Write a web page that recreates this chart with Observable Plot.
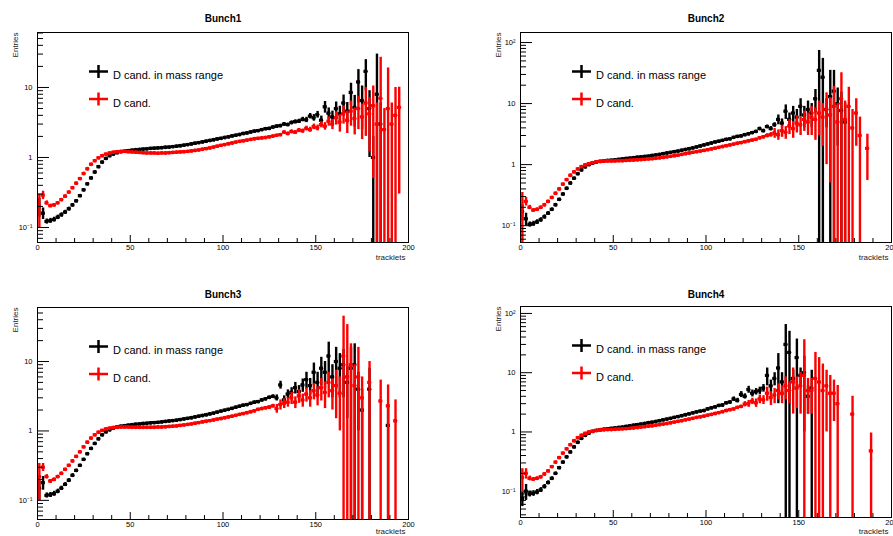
<!DOCTYPE html>
<html><head><meta charset="utf-8">
<script src="https://cdn.jsdelivr.net/npm/d3@7"></script>
<script src="https://cdn.jsdelivr.net/npm/@observablehq/plot@0.6"></script>
<style>
html,body{margin:0;padding:0;background:#fff;}
#root{position:relative;width:893px;height:536px;overflow:hidden;font-family:"Liberation Sans",Arial,sans-serif;}
.panel{position:absolute;}
</style></head><body><div id="root"></div>
<script>
// ---------- data ----------
const tracklets = [1,3,5,7,9,11,13,15,17,19,21,23,25,27,29,31,33,35,37,39,
 41,43,45,47,49,51,53,55,57,59,61,63,65,67,69,71,73,75,77,79,
 81,83,85,87,89,91,93,95,97,99,101,103,105,107,109,111,113,115,117,119,
 121,123,125,127,129,131,133,135,137,139,141,143,145,147,149,151,153,155,157,159,
 161,163,165,167,169,171,173,175,177,179,181,183,185,187,189,191,193,195,197,199];
const binWidth = 2;
const panelTitles = ["Bunch1","Bunch2","Bunch3","Bunch4"];
const legendLabels = ["D cand. in mass range","D cand."];
const xTicks = [0,50,100,150,200];
const yMin = [0.061,0.053,0.053,0.036];
const yMax = [61,146,60,131];
const yTickValues = [[0.1,1,10],[0.1,1,10,100],[0.1,1,10],[0.1,1,10,100]];
const xTitle = "tracklets", yTitle = "Entries";

// Bunch1
const bunch1InMass = [0.2,0.16,0.122,0.125,0.13,0.14,0.152,0.166,0.185,0.21,
 0.24,0.285,0.345,0.42,0.51,0.62,0.74,0.86,0.97,1.06,
 1.12,1.17,1.21,1.23,1.25,1.27,1.29,1.3,1.32,1.33,
 1.35,1.36,1.37,1.38,1.4,1.41,1.43,1.45,1.47,1.5,
 1.53,1.56,1.6,1.63,1.67,1.71,1.75,1.79,1.84,1.88,
 1.93,1.97,2.03,2.08,2.13,2.2,2.24,2.31,2.38,2.42,
 2.5,2.58,2.6,2.72,2.8,2.85,3.0,2.95,3.15,3.25,
 3.3,3.5,3.45,3.9,3.7,4.1,3.4,5.3,4.3,3.8,
 5.0,4.2,6.0,4.6,8.5,5.2,12,6.5,17,5,
 1.0,8,3];
const bunch1InMassErr = [0.06,0.03,0.01,0.01,0.01,0.01,0.01,0.01,0.01,0.01,
 0.01,0.01,0.01,0.01,0.01,0.02,0.02,0.02,0.02,0.02,
 0.02,0.02,0.02,0.02,0.02,0.02,0.02,0.02,0.02,0.02,
 0.02,0.02,0.02,0.02,0.02,0.02,0.02,0.02,0.02,0.03,
 0.03,0.03,0.03,0.03,0.03,0.03,0.03,0.03,0.04,0.04,
 0.04,0.04,0.05,0.05,0.05,0.06,0.06,0.07,0.07,0.08,
 0.08,0.09,0.1,0.1,0.12,0.13,0.15,0.15,0.18,0.2,
 0.22,0.25,0.3,0.35,0.4,0.45,0.5,1.0,0.8,0.8,
 1.2,1.2,1.8,1.5,3,2.5,6,4,8,4,
 1.0,22,3];
const bunch1All = [0.2,0.29,0.225,0.205,0.21,0.225,0.25,0.28,0.32,0.37,
 0.43,0.5,0.59,0.69,0.8,0.9,0.99,1.06,1.12,1.16,
 1.19,1.21,1.22,1.22,1.21,1.2,1.19,1.18,1.17,1.16,
 1.16,1.16,1.15,1.16,1.16,1.17,1.18,1.19,1.2,1.21,
 1.22,1.24,1.26,1.28,1.31,1.34,1.37,1.41,1.45,1.49,
 1.53,1.57,1.61,1.66,1.7,1.73,1.77,1.81,1.85,1.88,
 1.9,1.93,1.97,2.02,2.07,2.12,2.3,2.2,2.35,2.3,
 2.45,2.4,2.6,2.5,2.75,2.65,2.95,2.8,3.3,3.0,
 3.7,3.2,4.2,3.4,4.6,3.6,5.0,3.8,6,4.2,
 5.5,3,7,2.5,5,3,4,5.2];
const bunch1AllErr = [0.1,0.04,0.015,0.01,0.01,0.01,0.01,0.01,0.01,0.01,
 0.01,0.01,0.01,0.01,0.02,0.02,0.02,0.02,0.02,0.02,
 0.02,0.02,0.02,0.02,0.02,0.02,0.02,0.02,0.02,0.02,
 0.02,0.02,0.02,0.02,0.02,0.02,0.02,0.02,0.02,0.02,
 0.02,0.02,0.02,0.02,0.02,0.03,0.03,0.03,0.03,0.03,
 0.03,0.03,0.03,0.04,0.04,0.04,0.04,0.05,0.05,0.05,
 0.06,0.06,0.07,0.07,0.08,0.08,0.1,0.1,0.12,0.12,
 0.15,0.15,0.2,0.2,0.25,0.25,0.3,0.35,0.5,0.5,
 0.8,0.9,1.2,1.2,1.8,1.5,2.5,2,4,3,
 5,3,20,2.5,14,3,6,4.9];

// Bunch2
const bunch2InMass = [0.17,0.13,0.105,0.108,0.115,0.125,0.14,0.16,0.185,0.22,
 0.27,0.33,0.41,0.5,0.6,0.71,0.82,0.92,1.0,1.06,
 1.1,1.13,1.15,1.17,1.18,1.2,1.22,1.24,1.26,1.28,
 1.3,1.32,1.34,1.36,1.38,1.41,1.44,1.47,1.51,1.55,
 1.59,1.63,1.67,1.72,1.77,1.82,1.88,1.95,2.02,2.1,
 2.18,2.26,2.35,2.42,2.5,2.6,2.65,2.8,2.9,2.95,
 3.1,3.2,3.35,3.5,3.9,3.6,4.2,3.9,4.5,5.5,
 4.8,7.5,5.5,7,6,9,6.5,8,7,12,
 35,27,8,13,16,10,7.7,5];
const bunch2InMassErr = [0.05,0.03,0.01,0.01,0.01,0.01,0.01,0.01,0.01,0.01,
 0.01,0.01,0.01,0.01,0.01,0.02,0.02,0.02,0.02,0.02,
 0.02,0.02,0.02,0.02,0.02,0.02,0.02,0.02,0.02,0.02,
 0.02,0.02,0.02,0.02,0.02,0.02,0.02,0.02,0.02,0.03,
 0.03,0.03,0.03,0.03,0.03,0.03,0.03,0.03,0.04,0.04,
 0.04,0.04,0.05,0.05,0.05,0.06,0.06,0.07,0.07,0.08,
 0.1,0.1,0.12,0.13,0.2,0.2,0.25,0.3,0.35,1.0,
 0.8,2,1.5,2,2,3,2.5,3,3,5,
 39,28,4,22,19,8,7.7,5];
const bunch2All = [0.2,0.25,0.2,0.18,0.185,0.2,0.22,0.25,0.29,0.34,
 0.4,0.48,0.57,0.67,0.76,0.85,0.93,0.99,1.04,1.08,
 1.11,1.13,1.14,1.15,1.15,1.15,1.16,1.16,1.17,1.18,
 1.19,1.2,1.21,1.22,1.24,1.25,1.27,1.29,1.31,1.34,
 1.37,1.4,1.43,1.47,1.51,1.55,1.59,1.63,1.67,1.71,
 1.76,1.81,1.86,1.92,1.98,2.04,2.1,2.17,2.24,2.3,
 2.38,2.45,2.52,2.6,2.75,2.85,3.0,3.1,3.3,3.1,
 3.6,3.4,4.3,3.9,4.8,4.5,5.5,5,6,5.5,
 7,6,8,6.5,9,5,12,5.5,9,4,
 7,3,null,1.85];
const bunch2AllErr = [0.15,0.04,0.015,0.01,0.01,0.01,0.01,0.01,0.01,0.01,
 0.01,0.01,0.01,0.01,0.02,0.02,0.02,0.02,0.02,0.02,
 0.02,0.02,0.02,0.02,0.02,0.02,0.02,0.02,0.02,0.02,
 0.02,0.02,0.02,0.02,0.02,0.02,0.02,0.02,0.02,0.02,
 0.02,0.02,0.02,0.02,0.02,0.03,0.03,0.03,0.03,0.03,
 0.03,0.03,0.03,0.04,0.04,0.04,0.04,0.05,0.05,0.05,
 0.08,0.09,0.1,0.1,0.12,0.15,0.2,0.25,0.6,0.6,
 0.8,0.8,1.2,1.2,1.5,1.5,2,2,3,3,
 4,4,7,6,10,5,20,5.5,9.5,4,
 5,3,0,1.3];

// Bunch3
const bunch3InMass = [0.15,0.18,0.118,0.12,0.125,0.135,0.15,0.17,0.195,0.23,
 0.27,0.32,0.39,0.47,0.56,0.66,0.77,0.88,0.97,1.04,
 1.1,1.14,1.17,1.19,1.21,1.23,1.25,1.26,1.28,1.29,
 1.31,1.32,1.33,1.35,1.37,1.39,1.41,1.43,1.46,1.49,
 1.52,1.55,1.59,1.63,1.67,1.71,1.76,1.81,1.87,1.93,
 1.99,2.05,2.12,2.2,2.27,2.35,2.4,2.5,2.6,2.65,
 2.8,2.9,3.05,3.15,3.0,4.6,2.8,3.4,3.6,4.2,
 3.7,4.6,5.5,4.5,7,5,8,7,12,6,
 10,8,9,5,8,9,4,2,null,4,
 null,null,null,null,1.2];
const bunch3InMassErr = [0.05,0.04,0.01,0.01,0.01,0.01,0.01,0.01,0.01,0.01,
 0.01,0.01,0.01,0.01,0.01,0.02,0.02,0.02,0.02,0.02,
 0.02,0.02,0.02,0.02,0.02,0.02,0.02,0.02,0.02,0.02,
 0.02,0.02,0.02,0.02,0.02,0.02,0.02,0.02,0.02,0.03,
 0.03,0.03,0.03,0.03,0.03,0.03,0.03,0.03,0.04,0.04,
 0.04,0.04,0.05,0.05,0.05,0.06,0.06,0.07,0.07,0.08,
 0.1,0.12,0.13,0.15,0.3,0.6,0.4,0.5,0.6,0.8,
 0.8,1,1.5,1.2,2.5,2,3.5,3,7,3,
 6,5,6,3.5,8,9,3,2,0,4,
 0,0,0,0,1.2];
const bunch3All = [0.22,0.3,0.22,0.19,0.2,0.22,0.245,0.28,0.32,0.37,
 0.43,0.5,0.59,0.69,0.79,0.88,0.96,1.02,1.07,1.1,
 1.12,1.13,1.14,1.14,1.14,1.13,1.13,1.13,1.13,1.13,
 1.13,1.13,1.14,1.14,1.15,1.16,1.17,1.18,1.2,1.22,
 1.24,1.26,1.29,1.32,1.35,1.38,1.41,1.44,1.48,1.51,
 1.55,1.59,1.63,1.68,1.73,1.78,1.83,1.89,1.95,2.05,
 2.1,2.15,2.2,2.3,2.1,2.4,2.5,2.6,3.0,2.6,
 3.2,2.8,3.4,3.0,3.8,3.3,4.2,3.6,5,3.8,
 4.5,3.5,12,6,9,4.5,6,3,null,5,
 null,null,2.7,null,2.3,null,1.4];
const bunch3AllErr = [0.12,0.04,0.015,0.01,0.01,0.01,0.01,0.01,0.01,0.01,
 0.01,0.01,0.01,0.01,0.02,0.02,0.02,0.02,0.02,0.02,
 0.02,0.02,0.02,0.02,0.02,0.02,0.02,0.02,0.02,0.02,
 0.02,0.02,0.02,0.02,0.02,0.02,0.02,0.02,0.02,0.02,
 0.02,0.02,0.02,0.02,0.02,0.03,0.03,0.03,0.03,0.03,
 0.03,0.03,0.03,0.04,0.04,0.04,0.04,0.05,0.05,0.05,
 0.1,0.1,0.12,0.12,0.3,0.4,0.4,0.4,0.6,0.5,
 0.7,0.6,0.8,0.8,1,1,1.5,1.5,2,1.8,
 3,2.5,33,28,9,4.5,10,3,0,5,
 0,0,2.7,0,2.3,0,1.4];

// Bunch4
const bunch4InMass = [0.075,0.1,0.09,0.092,0.097,0.105,0.12,0.14,0.165,0.2,
 0.25,0.31,0.38,0.46,0.56,0.67,0.78,0.88,0.96,1.02,
 1.06,1.09,1.11,1.13,1.15,1.17,1.19,1.21,1.24,1.27,
 1.3,1.33,1.36,1.39,1.43,1.46,1.5,1.55,1.6,1.65,
 1.7,1.76,1.82,1.88,1.95,2.02,2.1,2.18,2.25,2.3,
 2.45,2.55,2.65,2.8,2.85,3.1,3.2,3.6,3.4,4.3,
 4.0,5.2,4.5,4.8,5.0,5.5,9,6,8,12,
 7,30,22,8,18,9,10,4,5.5];
const bunch4InMassErr = [0.02,0.03,0.01,0.01,0.01,0.01,0.01,0.01,0.01,0.01,
 0.01,0.01,0.01,0.01,0.01,0.02,0.02,0.02,0.02,0.02,
 0.02,0.02,0.02,0.02,0.02,0.02,0.02,0.02,0.02,0.02,
 0.02,0.02,0.02,0.02,0.02,0.02,0.02,0.02,0.02,0.03,
 0.03,0.03,0.03,0.03,0.03,0.03,0.03,0.03,0.04,0.04,
 0.06,0.07,0.07,0.08,0.08,0.1,0.1,0.3,0.3,0.5,
 0.4,0.7,0.6,0.6,0.7,0.8,3,1.5,2,9,
 3,35,28,3,19,3,9,2,5.5];
const bunch4All = [0.17,0.2,0.165,0.16,0.165,0.175,0.195,0.22,0.26,0.31,
 0.37,0.44,0.52,0.61,0.71,0.8,0.88,0.95,1.0,1.03,
 1.06,1.08,1.09,1.1,1.1,1.11,1.12,1.13,1.14,1.15,
 1.17,1.19,1.21,1.23,1.25,1.27,1.3,1.33,1.36,1.39,
 1.43,1.47,1.51,1.55,1.6,1.65,1.7,1.76,1.8,1.85,
 1.92,1.98,2.05,2.12,2.2,2.3,2.38,2.45,2.6,2.7,
 2.95,3.0,3.3,3.1,3.6,3.5,4.5,3.8,4.2,5,
 4.5,6,5,7,5.5,6,9,5,5,8,
 7,5,6,4.5,4.5,3,null,null,null,2.0,
 null,null,null,null,0.48];
const bunch4AllErr = [0.07,0.04,0.015,0.01,0.01,0.01,0.01,0.01,0.01,0.01,
 0.01,0.01,0.01,0.01,0.02,0.02,0.02,0.02,0.02,0.02,
 0.02,0.02,0.02,0.02,0.02,0.02,0.02,0.02,0.02,0.02,
 0.02,0.02,0.02,0.02,0.02,0.02,0.02,0.02,0.02,0.02,
 0.02,0.02,0.02,0.02,0.02,0.03,0.03,0.03,0.03,0.03,
 0.03,0.03,0.03,0.04,0.04,0.04,0.04,0.05,0.05,0.05,
 0.3,0.4,0.4,0.5,0.6,0.6,1.2,1,1.2,1.5,
 1.5,2.5,2,5,3,4,27,3,3,14,
 11,9,5,4.5,3,3.1,0,0,0,2,
 0,0,0,0,0.48];

const inMassSeries = [bunch1InMass,bunch2InMass,bunch3InMass,bunch4InMass];
const inMassErrors = [bunch1InMassErr,bunch2InMassErr,bunch3InMassErr,bunch4InMassErr];
const allSeries = [bunch1All,bunch2All,bunch3All,bunch4All];
const allErrors = [bunch1AllErr,bunch2AllErr,bunch3AllErr,bunch4AllErr];
const seriesColors = ["#000000","#ff0000"];

// ---------- layout ----------
const H = 268;
const layout = [
  {left:0,   top:0,   width:446, mL:37, mR:38, mT:32, mB:26, xLabDy:17, titleDy:-18},
  {left:446, top:0,   width:447, mL:74, mR:2,  mT:32, mB:26, xLabDy:17, titleDy:-18},
  {left:0,   top:268, width:446, mL:37, mR:38, mT:39, mB:17, xLabDy:14, titleDy:-17},
  {left:446, top:268, width:447, mL:74, mR:2,  mT:38, mB:19, xLabDy:16, titleDy:-16}
];
const crossSymbol = {draw(ctx){ctx.moveTo(-9.5,0);ctx.lineTo(9.5,0);ctx.moveTo(0,-6.5);ctx.lineTo(0,6.5);}};
const fmtY = v => v === 1 ? "1" : v === 10 ? "10" : v === 0.1 ? "10\u207B\u00B9" : v === 100 ? "10\u00B2" : "";

function seriesMarks(vals, errs, color, lo, hi) {
  const data = [];
  vals.forEach((v, i) => { if (v != null) data.push({t: tracklets[i], v, e: errs[i] || 0}); });
  return [
    Plot.ruleX(data, {x: "t", y1: d => Math.max(d.v - d.e, lo), y2: d => Math.min(d.v + d.e, hi), stroke: color, strokeWidth: 2.4, clip: true}),
    Plot.ruleY(data, {y: "v", x1: d => d.t - binWidth / 2, x2: d => d.t + binWidth / 2, stroke: color, strokeWidth: 3.2, clip: true}),
    Plot.dot(data, {x: "t", y: "v", r: 1.9, fill: color, stroke: "none", clip: true})
  ];
}

function makePanel(p) {
  const L = layout[p];
  const fw = L.width - L.mL - L.mR, fh = H - L.mT - L.mB;
  const lo = yMin[p], hi = yMax[p];
  const minorY = [];
  for (let e = -2; e <= 2; e++) for (let k = 2; k <= 9; k++) { const v = k * Math.pow(10, e); if (v > lo && v < hi) minorY.push(v); }
  const majorY = [0.01,0.1,1,10,100].filter(v => v > lo && v < hi);
  const minorX = [];
  for (let x = 10; x < 200; x += 10) if (x % 50) minorX.push(x);
  return Plot.plot({
    width: L.width, height: H,
    marginLeft: L.mL, marginRight: L.mR, marginTop: L.mT, marginBottom: L.mB,
    style: {fontFamily: "'Liberation Sans', Arial, sans-serif", fontSize: "8px", background: "white", overflow: "visible", color: "black"},
    x: {domain: [0, 200]},
    y: {type: "log", domain: [lo, hi]},
    marks: [
      ...seriesMarks(inMassSeries[p], inMassErrors[p], seriesColors[0], lo, hi),
      ...seriesMarks(allSeries[p], allErrors[p], seriesColors[1], lo, hi),
      Plot.frame({stroke: "black", strokeWidth: 1}),
      Plot.ruleX(xTicks, {x: d => d, insetTop: fh - 7, stroke: "black"}),
      Plot.ruleX(minorX, {x: d => d, insetTop: fh - 4, stroke: "black"}),
      Plot.ruleY(majorY, {y: d => d, insetRight: fw - 12, stroke: "black"}),
      Plot.ruleY(minorY, {y: d => d, insetRight: fw - 6, stroke: "black"}),
      Plot.axisX({ticks: xTicks, tickSize: 0, tickPadding: 2, label: null, fontSize: 7.5}),
      Plot.axisY({ticks: yTickValues[p], tickSize: 0, tickPadding: 5, tickFormat: fmtY, label: null, fontSize: 7.5}),
      Plot.text([panelTitles[p]], {text: d => d, frameAnchor: "top", dy: L.titleDy, fontSize: 10, fontWeight: "bold", fill: "black"}),
      Plot.text([yTitle], {text: d => d, frameAnchor: "top-left", dx: -25, dy: 0, rotate: -90, textAnchor: "end", fontSize: 8, fill: "#222"}),
      Plot.text([xTitle], {text: d => d, frameAnchor: "bottom-right", dx: -3, dy: L.xLabDy, textAnchor: "end", fontSize: 8, fill: "#222"}),
      Plot.dot([0], {frameAnchor: "top-left", dx: 61, dy: 39, symbol: crossSymbol, stroke: seriesColors[0], fill: "none", strokeWidth: 2.5}),
      Plot.dot([0], {frameAnchor: "top-left", dx: 61, dy: 66.5, symbol: crossSymbol, stroke: seriesColors[1], fill: "none", strokeWidth: 2.5}),
      Plot.text([legendLabels[0]], {text: d => d, frameAnchor: "top-left", dx: 75.5, dy: 39, textAnchor: "start", fontSize: 11, fill: "black"}),
      Plot.text([legendLabels[1]], {text: d => d, frameAnchor: "top-left", dx: 75.5, dy: 66.5, textAnchor: "start", fontSize: 11, fill: "black"})
    ]
  });
}

const root = document.getElementById("root");
for (let p = 0; p < 4; p++) {
  const div = document.createElement("div");
  div.className = "panel";
  div.style.left = layout[p].left + "px";
  div.style.top = layout[p].top + "px";
  div.appendChild(makePanel(p));
  root.appendChild(div);
}
</script>
</body></html>
